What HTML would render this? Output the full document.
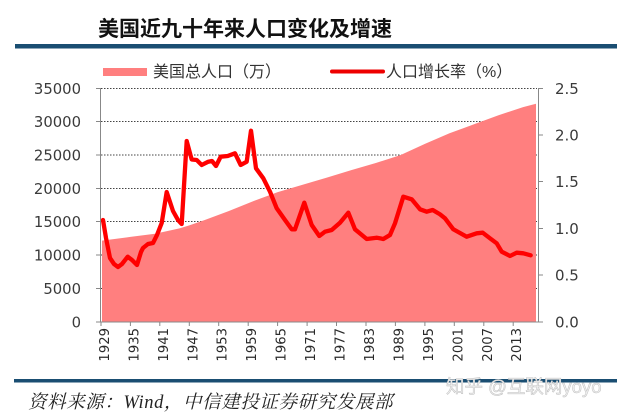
<!DOCTYPE html>
<html><head><meta charset="utf-8">
<style>
html,body{margin:0;padding:0;background:#fff;}
svg{display:block;}
</style></head>
<body>
<svg width="617" height="417" viewBox="0 0 617 417" xmlns="http://www.w3.org/2000/svg">
<rect width="617" height="417" fill="#fff"/>
<!-- title -->
<text x="98" y="36" font-family="Liberation Sans, Noto Sans CJK SC, sans-serif" font-size="21" font-weight="bold" fill="#111">美国近九十年来人口变化及增速</text>
<rect x="15" y="44" width="602" height="4.5" fill="#1a4e72"/>

<!-- legend -->
<rect x="103" y="68" width="44" height="8" fill="#ff7f7f"/>
<text x="153" y="77" font-family="Liberation Sans, Noto Sans CJK SC, sans-serif" font-size="16" fill="#333">美国总人口（万）</text>
<line x1="332" y1="71.5" x2="383" y2="71.5" stroke="#e00" stroke-width="4" stroke-linecap="round"/>
<text x="386" y="77" font-family="Liberation Sans, Noto Sans CJK SC, sans-serif" font-size="16" fill="#333">人口增长率（%）</text>

<!-- gridlines -->
<g stroke="#444" stroke-width="1" stroke-dasharray="1.5 1.5">
<line x1="101" y1="88.5" x2="537" y2="88.5"/>
<line x1="101" y1="121.5" x2="537" y2="121.5"/>
<line x1="101" y1="155" x2="537" y2="155"/>
<line x1="101" y1="188.5" x2="537" y2="188.5"/>
<line x1="101" y1="221.5" x2="537" y2="221.5"/>
<line x1="101" y1="255" x2="537" y2="255"/>
<line x1="101" y1="288.5" x2="537" y2="288.5"/>
</g>

<!-- area -->
<polygon fill="#ff7f7f" points="102,322 102,240.6 130.4,236.9 155,233.7 179.5,228.4 189.3,225.4 204.1,220.2 228.6,211.1 253.1,201.2 277.7,192.1 302.2,184.9 326.8,177.6 351.3,170.1 375.8,163 400.4,155.1 424.9,143.9 449.5,133.3 474,124.3 498.5,115.2 523.1,107.1 536,103.7 536,322"/>

<!-- line -->
<polyline fill="none" stroke="#f00" stroke-width="4.3" stroke-linejoin="round" stroke-linecap="round" points="103,220 106,238 110,258 114,264 118,267 122,264 127.7,256.7 132,260 137,265 141,252 143,248 148,244 153,243 157,235 161.7,223 166.7,192 173,211 178,220 181.7,224 186.7,141 191.7,159.5 196.7,160 201.7,165 208.3,161.7 212,161 216,166 220.7,156.7 227.7,156 235,153.3 240.7,165 246.7,161.7 251,130.7 256,168.3 263.3,178.3 270,191.7 276.7,208.3 285,220 291.7,229.3 295,229.3 304.3,202.7 311.7,225 319.3,236 325,231.7 331.7,230 340,222.7 348.3,212.7 355,229.3 366.7,239 376.7,237.7 383.3,239 390,235 395,223.3 403.3,196.7 411.7,199.3 420,209.3 426.7,211.7 432.7,210 440,214.3 445,218.3 453.3,229.3 466.7,236.7 476.7,233.3 482.7,232.7 490,238.3 496.7,243.3 501.7,251.7 510,256 516.7,252.7 523.3,253.3 530.7,255.3"/>

<!-- axes -->
<g stroke="#888" stroke-width="1" fill="none">
<line x1="100.5" y1="88" x2="100.5" y2="322"/>
<line x1="538.5" y1="88" x2="538.5" y2="322"/>
<line x1="100" y1="322" x2="539" y2="322"/>
<!-- left ticks -->
<line x1="96" y1="88.5" x2="100" y2="88.5"/>
<line x1="96" y1="121.5" x2="100" y2="121.5"/>
<line x1="96" y1="155" x2="100" y2="155"/>
<line x1="96" y1="188.5" x2="100" y2="188.5"/>
<line x1="96" y1="221.5" x2="100" y2="221.5"/>
<line x1="96" y1="255" x2="100" y2="255"/>
<line x1="96" y1="288.5" x2="100" y2="288.5"/>
<line x1="96" y1="322" x2="100" y2="322"/>
<!-- right ticks -->
<line x1="539" y1="88.5" x2="543" y2="88.5"/>
<line x1="539" y1="135" x2="543" y2="135"/>
<line x1="539" y1="181.5" x2="543" y2="181.5"/>
<line x1="539" y1="228.5" x2="543" y2="228.5"/>
<line x1="539" y1="275" x2="543" y2="275"/>
<line x1="539" y1="322" x2="543" y2="322"/>
<!-- bottom ticks -->
<line x1="101" y1="322" x2="101" y2="326"/>
<line x1="130.4" y1="322" x2="130.4" y2="326"/>
<line x1="159.8" y1="322" x2="159.8" y2="326"/>
<line x1="189.3" y1="322" x2="189.3" y2="326"/>
<line x1="218.7" y1="322" x2="218.7" y2="326"/>
<line x1="248.2" y1="322" x2="248.2" y2="326"/>
<line x1="277.6" y1="322" x2="277.6" y2="326"/>
<line x1="307.1" y1="322" x2="307.1" y2="326"/>
<line x1="336.5" y1="322" x2="336.5" y2="326"/>
<line x1="366" y1="322" x2="366" y2="326"/>
<line x1="395.4" y1="322" x2="395.4" y2="326"/>
<line x1="424.9" y1="322" x2="424.9" y2="326"/>
<line x1="454.3" y1="322" x2="454.3" y2="326"/>
<line x1="483.8" y1="322" x2="483.8" y2="326"/>
<line x1="513.2" y1="322" x2="513.2" y2="326"/>
</g>

<!-- left labels -->
<g font-family="DejaVu Sans, Liberation Sans, sans-serif" font-size="14.8" fill="#3a3a3a" text-anchor="end">
<text x="81" y="94">35000</text>
<text x="81" y="127">30000</text>
<text x="81" y="160.5">25000</text>
<text x="81" y="194">20000</text>
<text x="81" y="227">15000</text>
<text x="81" y="260.5">10000</text>
<text x="81" y="294">5000</text>
<text x="81" y="327.5">0</text>
</g>
<!-- right labels -->
<g font-family="DejaVu Sans, Liberation Sans, sans-serif" font-size="15" fill="#3a3a3a">
<text x="555" y="94">2.5</text>
<text x="555" y="140.5">2.0</text>
<text x="555" y="187">1.5</text>
<text x="555" y="234">1.0</text>
<text x="555" y="280.5">0.5</text>
<text x="555" y="327.5">0.0</text>
</g>
<!-- x labels -->
<g font-family="DejaVu Sans, Liberation Sans, sans-serif" font-size="13.2" fill="#2a2a2a" text-anchor="end">
<text transform="translate(109,328) rotate(-90)">1929</text>
<text transform="translate(138.4,328) rotate(-90)">1935</text>
<text transform="translate(167.8,328) rotate(-90)">1941</text>
<text transform="translate(197.3,328) rotate(-90)">1947</text>
<text transform="translate(226.7,328) rotate(-90)">1953</text>
<text transform="translate(256.2,328) rotate(-90)">1959</text>
<text transform="translate(285.6,328) rotate(-90)">1965</text>
<text transform="translate(315.1,328) rotate(-90)">1971</text>
<text transform="translate(344.5,328) rotate(-90)">1977</text>
<text transform="translate(374,328) rotate(-90)">1983</text>
<text transform="translate(403.4,328) rotate(-90)">1989</text>
<text transform="translate(432.9,328) rotate(-90)">1995</text>
<text transform="translate(462.3,328) rotate(-90)">2001</text>
<text transform="translate(491.8,328) rotate(-90)">2007</text>
<text transform="translate(521.2,328) rotate(-90)">2013</text>
</g>

<!-- bottom rule -->
<rect x="14" y="379" width="603" height="3.5" fill="#1a4e72"/>
<text x="28" y="408" font-family="Liberation Serif, Noto Serif CJK SC, serif" font-style="italic" font-size="18.5" letter-spacing="0.6" fill="#222">资料来源：Wind，中信建投证券研究发展部</text>
<text x="446" y="393" font-family="Liberation Sans, Noto Sans CJK SC, sans-serif" font-size="18.5" fill="#f0f0f0" stroke="#c0c0c0" stroke-width="0.5">知乎 @互联网yoyo</text>
</svg>
</body></html>
